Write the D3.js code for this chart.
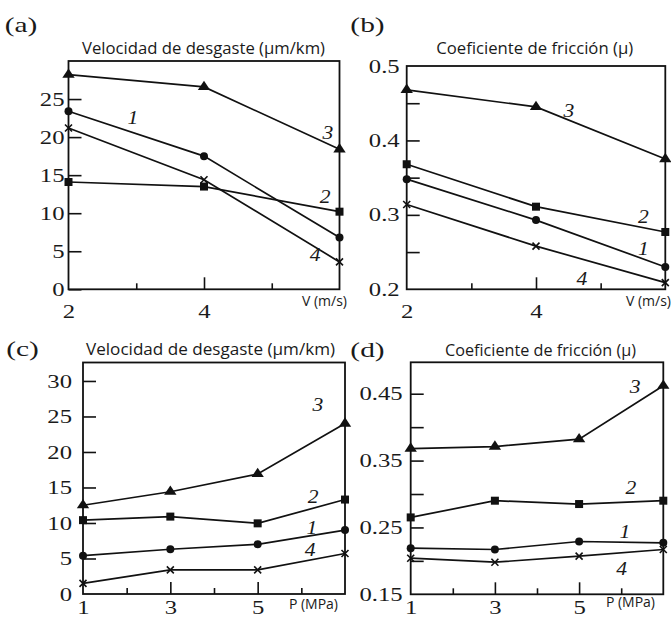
<!DOCTYPE html>
<html>
<head>
<meta charset="utf-8">
<script src="https://cdn.jsdelivr.net/npm/d3@7"></script>
<style>
  body { margin: 0; background: #fff; }
  text { fill: #1a1a1a; }
</style>
</head>
<body>
<svg id="fig" width="671" height="619"></svg>
<script>
// ---- data ----
const velocity = [2, 4, 6];        // V (m/s)
const pressure = [1, 3, 5, 7];     // P (MPa)

// wear rate (µm/km) against sliding speed
const wearV1 = [23.4, 17.5, 6.8];
const wearV2 = [14.1, 13.5, 10.2];
const wearV3 = [28.2, 26.6, 18.4];
const wearV4 = [21.2, 14.4, 3.6];

// friction coefficient against sliding speed
const fricV1 = [0.348, 0.293, 0.230];
const fricV2 = [0.368, 0.311, 0.277];
const fricV3 = [0.468, 0.445, 0.375];
const fricV4 = [0.314, 0.258, 0.209];

// wear rate (µm/km) against contact pressure
const wearP1 = [5.4, 6.3, 7.0, 9.0];
const wearP2 = [10.4, 10.9, 9.95, 13.3];
const wearP3 = [12.5, 14.4, 16.9, 24.0];
const wearP4 = [1.5, 3.4, 3.4, 5.7];

// friction coefficient against contact pressure
const fricP1 = [0.219, 0.217, 0.229, 0.227];
const fricP2 = [0.265, 0.290, 0.285, 0.290];
const fricP3 = [0.368, 0.371, 0.382, 0.462];
const fricP4 = [0.204, 0.198, 0.207, 0.217];

const seriesNames = ["1", "2", "3", "4"];
const markerKinds = ["circle", "square", "triangle", "cross"];

const wearVTicks = [0, 5, 10, 15, 20, 25];
const wearVLabels = [0, 5, 10, 15, 20, 25];
const fricVTicks = [0.25, 0.3, 0.35, 0.4, 0.45];
const fricVLabels = [0.2, 0.3, 0.4, 0.5];
const wearPTicks = [5, 10, 15, 20, 25, 30];
const wearPLabels = [0, 5, 10, 15, 20, 25, 30];
const fricPTicks = [0.2, 0.25, 0.3, 0.35, 0.4, 0.45];
const fricPLabels = [0.15, 0.25, 0.35, 0.45];

const speedMajor = [4];
const speedMinor = [3, 5];
const speedLabels = [2, 4];
const pressMajor = [3, 5];
const pressMinor = [2, 4, 6];
const pressLabels = [1, 3, 5];

const titleWear = "Velocidad de desgaste (\u00b5m/km)";
const titleFric = "Coeficiente de fricci\u00f3n (\u00b5)";

// series-number annotations, in data coordinates [x, y]
const notesA = [[2.95, 22.6], [5.79, 12.2], [5.83, 20.6], [5.64, 4.5]];
const notesB = [[5.66, 0.255], [5.66, 0.297], [4.51, 0.440], [4.71, 0.214]];
const notesC = [[6.24, 9.3], [6.27, 13.7], [6.38, 26.6], [6.2, 6.2]];
const notesD = [[6.09, 0.244], [6.23, 0.309], [6.33, 0.460], [6.01, 0.189]];

// ---- layout ----
const panels = [
  { tag: "(a)", tagPos: [21, 32], title: titleWear, titleX: 203.5, titleY: 54, titleW: 243,
    unit: "V (m/s)", unitPos: [347, 306],
    box: [68.5, 61, 339.5, 289.3], xDom: [2, 6], yDom: [0, 30], xs: velocity,
    ys: [wearV1, wearV2, wearV3, wearV4], notes: notesA,
    yTicks: wearVTicks, yLabels: wearVLabels, yFmt: d3.format("d"), yPad: 4,
    xMajor: speedMajor, xMinor: speedMinor, xLabels: speedLabels, xLabY: 317.5 },
  { tag: "(b)", tagPos: [367.5, 32], title: titleFric, titleX: 534.7, titleY: 54, titleW: 197,
    unit: "V (m/s)", unitPos: [671, 306],
    box: [406.7, 66, 665.3, 289.3], xDom: [2, 6], yDom: [0.2, 0.5], xs: velocity,
    ys: [fricV1, fricV2, fricV3, fricV4], notes: notesB,
    yTicks: fricVTicks, yLabels: fricVLabels, yFmt: d3.format(".1f"), yPad: 7,
    xMajor: speedMajor, xMinor: speedMinor, xLabels: speedLabels, xLabY: 318 },
  { tag: "(c)", tagPos: [22.5, 356], title: titleWear, titleX: 210.5, titleY: 355, titleW: 249,
    unit: "P (MPa)", unitPos: [338, 609],
    box: [83, 362.5, 345, 594], xDom: [1, 7], yDom: [0, 32.6], xs: pressure,
    ys: [wearP1, wearP2, wearP3, wearP4], notes: notesC,
    yTicks: wearPTicks, yLabels: wearPLabels, yFmt: d3.format("d"), yPad: 11,
    xMajor: pressMajor, xMinor: pressMinor, xLabels: pressLabels, xLabY: 614 },
  { tag: "(d)", tagPos: [367.5, 357], title: titleFric, titleX: 540.5, titleY: 356, titleW: 191,
    unit: "P (MPa)", unitPos: [655, 607],
    box: [410.7, 362.3, 663.3, 594.3], xDom: [1, 7], yDom: [0.15, 0.497], xs: pressure,
    ys: [fricP1, fricP2, fricP3, fricP4], notes: notesD,
    yTicks: fricPTicks, yLabels: fricPLabels, yFmt: d3.format(".2f"), yPad: 8,
    xMajor: pressMajor, xMinor: pressMinor, xLabels: pressLabels, xLabY: 614 }
];

const svg = d3.select("#fig");
const serif = "'Liberation Serif', 'Times New Roman', serif";
const sans = "'Open Sans', 'Liberation Sans', sans-serif";
const numStretch = 1.3;   // tick numerals are set wide

function drawMarker(g, kind, cx, cy) {
  if (kind === "circle") {
    g.append("circle").attr("cx", cx).attr("cy", cy).attr("r", 4).attr("fill", "#111");
  } else if (kind === "square") {
    g.append("rect").attr("x", cx - 4).attr("y", cy - 4).attr("width", 8).attr("height", 8).attr("fill", "#111");
  } else if (kind === "triangle") {
    g.append("path").attr("d", d3.symbol().type(d3.symbolTriangle).size(50)())
      .attr("transform", `translate(${cx},${cy}) scale(1.15,1)`).attr("fill", "#111");
  } else {
    g.append("path").attr("d", `M${cx - 3.5},${cy - 3.5}L${cx + 3.5},${cy + 3.5}M${cx - 3.5},${cy + 3.5}L${cx + 3.5},${cy - 3.5}`)
      .attr("stroke", "#111").attr("stroke-width", 1.6);
  }
}

panels.forEach(p => {
  const [x0, y0, x1, y1] = p.box;
  const x = d3.scaleLinear().domain(p.xDom).range([x0, x1]);
  const y = d3.scaleLinear().domain(p.yDom).range([y1, y0]);
  const g = svg.append("g");

  // left axis, ticks pointing inward
  const yLabelSet = new Set(p.yLabels.map(v => +v.toFixed(3)));
  const allY = Array.from(new Set(p.yTicks.concat(p.yLabels))).sort((a, b) => a - b);
  const yAxis = d3.axisLeft(y).tickValues(allY).tickSize(-13).tickPadding(p.yPad)
    .tickFormat(d => yLabelSet.has(+d.toFixed(3)) ? p.yFmt(d) : "");
  const ya = g.append("g").attr("transform", `translate(${x0},0)`).call(yAxis);
  ya.select(".domain").remove();
  ya.selectAll(".tick line").attr("stroke", "#111").attr("stroke-width", 1.6)
    .attr("display", d => (p.yTicks.includes(d) ? null : "none"));
  ya.selectAll(".tick text").attr("font-family", serif).attr("font-size", 19).attr("fill", "#2a2a2a")
    .attr("x", 0).attr("transform", `translate(${-p.yPad},0) scale(${numStretch},1)`);

  // bottom axis: major ticks with labels, minor ticks without
  const xLabelSet = new Set(p.xLabels);
  const xa = g.append("g").attr("transform", `translate(0,${y1})`)
    .call(d3.axisBottom(x).tickValues(Array.from(new Set(p.xMajor.concat(p.xLabels)))).tickSize(-12).tickPadding(0)
      .tickFormat(d => xLabelSet.has(d) ? d : ""));
  xa.select(".domain").remove();
  xa.selectAll(".tick line").attr("stroke", "#111").attr("stroke-width", 1.6)
    .attr("display", d => (p.xMajor.includes(d) ? null : "none"));
  xa.selectAll(".tick text").attr("font-family", serif).attr("font-size", 19).attr("fill", "#2a2a2a")
    .attr("dy", null).attr("y", 0).attr("transform", `translate(0,${p.xLabY - y1}) scale(${numStretch},1)`);
  const xm = g.append("g").attr("transform", `translate(0,${y1})`)
    .call(d3.axisBottom(x).tickValues(p.xMinor).tickSize(-6).tickFormat(""));
  xm.select(".domain").remove();
  xm.selectAll(".tick line").attr("stroke", "#111").attr("stroke-width", 1.6);

  // plot frame
  g.append("rect").attr("x", x0).attr("y", y0).attr("width", x1 - x0).attr("height", y1 - y0)
    .attr("fill", "none").attr("stroke", "#111").attr("stroke-width", 1.8);

  // series lines and markers
  const line = d3.line().x((d, i) => x(p.xs[i])).y(d => y(d));
  p.ys.forEach((vals, si) => {
    g.append("path").datum(vals).attr("d", line).attr("fill", "none")
      .attr("stroke", "#111").attr("stroke-width", 1.7);
    vals.forEach((v, i) => drawMarker(g, markerKinds[si], x(p.xs[i]), y(v)));
  });

  // series numbers
  p.notes.forEach((n, si) => {
    g.append("text").attr("transform", `translate(${x(n[0])},${y(n[1])}) scale(1.2,1)`).attr("dy", "0.35em")
      .attr("text-anchor", "middle").attr("font-family", serif).attr("font-style", "italic")
      .attr("font-size", 18).text(seriesNames[si]);
  });

  // title, unit and panel tag
  g.append("text").attr("x", p.titleX).attr("y", p.titleY).attr("text-anchor", "middle")
    .attr("font-family", sans).attr("font-size", 15.5)
    .attr("textLength", p.titleW).attr("lengthAdjust", "spacingAndGlyphs").text(p.title);
  g.append("text").attr("x", p.unitPos[0]).attr("y", p.unitPos[1]).attr("text-anchor", "end")
    .attr("font-family", sans).attr("font-size", 14).text(p.unit);
  g.append("text").attr("transform", `translate(${p.tagPos[0]},${p.tagPos[1]}) scale(1.4,1)`)
    .attr("text-anchor", "middle").attr("font-family", serif).attr("font-size", 21).text(p.tag);
});
</script>
</body>
</html>
